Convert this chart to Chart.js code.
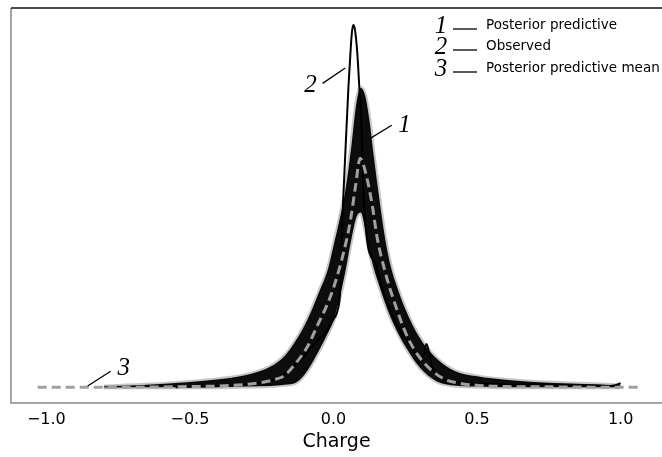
<!DOCTYPE html>
<html>
<head>
<meta charset="utf-8">
<script src="https://cdn.jsdelivr.net/npm/chart.js@4.4.0/dist/chart.umd.min.js"></script>
<style>
    html, body { margin: 0; padding: 0; background: #ffffff; }
</style>
</head>
<body>
<canvas id="ppcChart" width="662" height="457"></canvas>
<script>
// Posterior predictive envelope (min / max of the sampled KDE curves)
var bandX  = [-0.8, -0.65, -0.5, -0.4, -0.3, -0.22, -0.17, -0.13, -0.09, -0.05, -0.02, 0.0, 0.02, 0.04, 0.06, 0.08, 0.095, 0.11, 0.125, 0.14, 0.16, 0.18, 0.2, 0.22, 0.25, 0.3, 0.36, 0.42, 0.5, 0.6, 0.7, 0.8, 0.9, 1.0];
var bandHi = [0.01, 0.04, 0.09, 0.14, 0.22, 0.36, 0.55, 0.83, 1.2, 1.68, 2.07, 2.49, 2.93, 3.43, 4.16, 5.02, 5.28, 5.15, 4.72, 4.09, 3.31, 2.62, 2.12, 1.79, 1.38, 0.87, 0.5, 0.29, 0.19, 0.13, 0.09, 0.07, 0.05, 0.03];
var bandLo = [0, 0, 0, 0, 0.01, 0.02, 0.04, 0.08, 0.3, 0.65, 0.95, 1.17, 1.55, 2.0, 2.55, 3.0, 3.08, 2.8, 2.42, 2.1, 1.78, 1.48, 1.22, 1.0, 0.72, 0.35, 0.1, 0.03, 0.01, 0, 0, 0, 0, 0];

// Observed KDE
var obsX = [-0.55, -0.4, -0.3, -0.2, -0.12, -0.06, -0.03, 0.0, 0.014, 0.024, 0.031, 0.041, 0.052, 0.059, 0.064, 0.069, 0.075, 0.083, 0.09, 0.097, 0.103, 0.11, 0.121, 0.131, 0.145, 0.172, 0.214, 0.266, 0.3, 0.312, 0.324, 0.335, 0.345, 0.369, 0.438, 0.507, 0.56, 0.62, 0.7, 0.8, 0.9, 0.96, 0.985, 1.0];
var obsY = [0.0, 0.02, 0.05, 0.15, 0.45, 0.8, 0.95, 1.2, 1.35, 1.75, 2.94, 4.1, 5.29, 5.89, 6.25, 6.39, 6.3, 5.89, 5.29, 4.7, 3.52, 2.94, 2.46, 2.3, 2.2, 1.7, 1.17, 0.73, 0.51, 0.55, 0.76, 0.55, 0.34, 0.16, 0.09, 0.05, 0.06, 0.04, 0.05, 0.03, 0.03, 0.02, 0.04, 0.07];

// Posterior predictive mean
var meanX = [-1.03, -0.7, -0.5, -0.4, -0.3, -0.24, -0.2, -0.172, -0.138, -0.09, -0.055, -0.025, 0.0, 0.034, 0.059, 0.076, 0.093, 0.11, 0.134, 0.152, 0.179, 0.214, 0.259, 0.31, 0.379, 0.438, 0.507, 0.6, 0.75, 0.9, 1.07];
var meanY = [0, 0, 0.01, 0.02, 0.05, 0.09, 0.14, 0.2, 0.38, 0.72, 1.1, 1.42, 1.75, 2.35, 2.94, 3.52, 4.04, 3.82, 3.24, 2.64, 2.05, 1.47, 0.87, 0.46, 0.16, 0.07, 0.03, 0.01, 0.005, 0, 0];

var tickValues = [-1.0, -0.5, 0.0, 0.5, 1.0];
var legendNums = ['1', '2', '3'];
var legendLabels = ['Posterior predictive', 'Observed', 'Posterior predictive mean'];

// number labels in the plot, in data coords: [label, textX, textY, lineX0, lineY0, lineX1, lineY1]
var callouts = [
    ['1', 0.247, 4.62, 0.128, 4.39, 0.203, 4.62],
    ['2', -0.08, 5.33, -0.038, 5.36, 0.041, 5.63],
    ['3', -0.73, 0.33, -0.856, 0.02, -0.776, 0.28]
];

function toPoints(xs, ys) {
    return xs.map(function (x, i) { return { x: x, y: ys[i] }; });
}

var serif = 'italic 25px "Liberation Serif", "DejaVu Serif", serif';

var framePlugin = {
    id: 'frameAndNotes',
    afterDatasetsDraw: function (chart) {
        var ctx = chart.ctx;
        var ca = chart.chartArea;
        var xs = chart.scales.x, ys = chart.scales.y;
        ctx.save();
        // spines
        ctx.lineWidth = 1.5;
        ctx.strokeStyle = '#888888';
        ctx.beginPath();
        ctx.moveTo(ca.left, ca.top);
        ctx.lineTo(ca.left, ca.bottom);
        ctx.lineTo(ca.right, ca.bottom);
        ctx.stroke();
        ctx.strokeStyle = '#111111';
        ctx.beginPath();
        ctx.moveTo(ca.left, ca.top);
        ctx.lineTo(ca.right, ca.top);
        ctx.stroke();

        // callouts
        ctx.fillStyle = '#000';
        ctx.strokeStyle = '#000';
        ctx.lineWidth = 1.3;
        ctx.font = serif;
        ctx.textAlign = 'center';
        ctx.textBaseline = 'middle';
        callouts.forEach(function (c) {
            ctx.beginPath();
            ctx.moveTo(xs.getPixelForValue(c[3]), ys.getPixelForValue(c[4]));
            ctx.lineTo(xs.getPixelForValue(c[5]), ys.getPixelForValue(c[6]));
            ctx.stroke();
            ctx.fillText(c[0], xs.getPixelForValue(c[1]), ys.getPixelForValue(c[2]));
        });

        // legend, top right
        var rowY = [26, 47, 69];
        legendNums.forEach(function (n, i) {
            ctx.font = serif;
            ctx.textAlign = 'center';
            ctx.fillText(n, 441, rowY[i]);
            ctx.beginPath();
            ctx.moveTo(453, rowY[i] + 3);
            ctx.lineTo(477, rowY[i] + 3);
            ctx.stroke();
            ctx.font = '13.5px "DejaVu Sans"';
            ctx.textAlign = 'left';
            ctx.fillText(legendLabels[i], 486, rowY[i] - 1);
        });
        ctx.restore();
    }
};

var ctx = document.getElementById('ppcChart').getContext('2d');
var ppcChart = new Chart(ctx, {
    type: 'line',
    data: {
        datasets: [
            {
                label: 'Posterior predictive mean',
                data: toPoints(meanX, meanY),
                borderColor: '#a0a0a0',
                borderWidth: 3,
                borderDash: [9, 5],
                pointRadius: 0,
                fill: false,
                cubicInterpolationMode: 'monotone'
            },
            {
                label: 'Observed',
                data: toPoints(obsX, obsY),
                borderColor: '#000000',
                borderWidth: 2,
                pointRadius: 0,
                fill: false,
                cubicInterpolationMode: 'monotone'
            },
            {
                label: 'pp low',
                data: toPoints(bandX, bandLo),
                borderColor: 'rgba(0,0,0,0.22)',
                borderWidth: 4,
                pointRadius: 0,
                fill: false,
                cubicInterpolationMode: 'monotone'
            },
            {
                label: 'Posterior predictive',
                data: toPoints(bandX, bandHi),
                borderColor: 'rgba(0,0,0,0.22)',
                borderWidth: 4,
                pointRadius: 0,
                backgroundColor: 'rgba(0,0,0,0.95)',
                fill: { target: 2 },
                cubicInterpolationMode: 'monotone'
            }
        ]
    },
    options: {
        responsive: false,
        animation: false,
        layout: { padding: { left: 11, top: 8, right: 0, bottom: 0 } },
        plugins: {
            legend: { display: false },
            tooltip: { enabled: false }
        },
        scales: {
            x: {
                type: 'linear',
                min: -1.123,
                max: 1.144,
                grid: { display: false, drawTicks: false },
                border: { display: false },
                afterBuildTicks: function (axis) {
                    axis.ticks = tickValues.map(function (v) { return { value: v }; });
                },
                ticks: {
                    padding: 7,
                    color: '#000',
                    font: { family: 'DejaVu Sans', size: 16 },
                    maxRotation: 0,
                    callback: function (v) { return v.toFixed(1).replace('-', '\u2212'); }
                },
                title: {
                    display: true,
                    text: 'Charge',
                    color: '#000',
                    font: { family: 'DejaVu Sans', size: 19 },
                    padding: { top: -6, bottom: 4 }
                }
            },
            y: {
                display: false,
                min: -0.28,
                max: 6.69
            }
        }
    },
    plugins: [framePlugin]
});
</script>
</body>
</html>
